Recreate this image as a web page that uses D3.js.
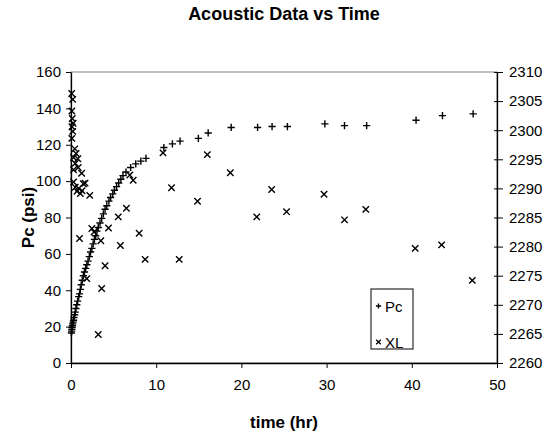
<!DOCTYPE html>
<html>
<head>
<meta charset="utf-8">
<script src="https://cdn.jsdelivr.net/npm/d3@7"></script>
<style>
  body { margin: 0; background: #fff; }
  text { font-family: "Liberation Sans", Arial, sans-serif; fill: #000; }
</style>
</head>
<body>
<div id="container"></div>
<script>
// DATA

const pcTime = [0.05, 0.08, 0.1, 0.13, 0.17, 0.2, 0.25, 0.3, 0.35, 0.42,
  0.5, 0.58, 0.68, 0.78, 0.9, 1.0, 1.1, 1.2, 1.32, 1.45,
  1.58, 1.72, 1.86, 2.0, 2.15, 2.3, 2.45, 2.6, 2.75, 2.9,
  3.05, 3.2, 3.4, 3.6, 3.8, 4.0, 4.2, 4.45, 4.65, 4.9,
  5.1, 5.35, 5.6, 5.85, 6.1, 6.45, 7.0, 7.6, 8.2, 8.8,
  10.9, 11.9, 12.8, 14.95, 16.1, 18.8, 21.9, 23.6, 25.4, 29.8,
  32.1, 34.7, 40.5, 43.6, 47.2]
const pcValue = [16.5, 17.5, 18.5, 19.5, 20.5, 21.5, 22.5, 23.5, 25, 26.5,
  28, 30, 32, 34, 36.5, 38, 40.5, 43, 45.5, 48,
  50, 52, 54, 56, 58.5, 61, 63, 65.5, 68, 70,
  72.5, 74.5, 77, 79.5, 82, 84.5, 86.5, 89, 91, 93,
  95, 97, 99, 101, 103, 105, 107.5, 109.5, 111, 112.5,
  118.5, 120.5, 122, 123.5, 126.5, 129.5, 129.5, 130, 130, 131.5,
  130.5, 130.5, 133.5, 136, 137]

const xlTime = [0.08, 0.2, 0.1, 0.15, 0.25, 0.12, 0.2, 0.1, 0.45, 0.6,
  0.3, 0.8, 0.5, 0.85, 0.3, 1.25, 0.3, 1.45, 0.5, 0.7,
  0.9, 1.1, 1.3, 1.65, 2.2, 1.0, 1.85, 2.45, 2.7, 3.2,
  3.5, 3.6, 4.0, 4.4, 5.55, 5.8, 6.5, 6.9, 7.3, 8.0,
  8.7, 10.8, 11.8, 12.7, 14.85, 16.0, 18.7, 21.8, 23.55, 25.3,
  29.7, 32.1, 34.6, 40.4, 43.5, 47.1]
const xlValue = [2306.3, 2305.3, 2303.3, 2302.0, 2301.2, 2300.6, 2299.8, 2298.6, 2296.8, 2296.0,
  2295.3, 2295.1, 2294.3, 2293.6, 2293.2, 2292.6, 2291.1, 2290.8, 2290.2, 2289.5,
  2290.0, 2289.1, 2289.6, 2290.9, 2288.8, 2281.4, 2274.5, 2283.1, 2282.5, 2264.9,
  2281.0, 2272.8, 2276.7, 2283.2, 2285.1, 2280.2, 2286.6, 2292.3, 2291.4, 2282.3,
  2277.8, 2296.1, 2290.1, 2277.8, 2287.8, 2295.8, 2292.7, 2285.1, 2289.8, 2286.0,
  2289.0, 2284.6, 2286.4, 2279.7, 2280.3, 2274.2]

const xTicks = [0, 10, 20, 30, 40, 50]
const leftTicks = [0, 20, 40, 60, 80, 100, 120, 140, 160]
const rightTicks = [2260, 2265, 2270, 2275, 2280, 2285, 2290, 2295, 2300, 2305, 2310]
const seriesNames = ["Pc", "XL"]

// LAYOUT

const width = 548
const height = 433
const pLeft = 71, pRight = 497, pTop = 72, pBottom = 363

// SCALES

const x = d3.scaleLinear().domain([0, 50]).range([pLeft, pRight])
const yL = d3.scaleLinear().domain([0, 160]).range([pBottom, pTop])
const yR = d3.scaleLinear().domain([2260, 2310]).range([pBottom, pTop])

const svg = d3.select("#container")
  .append("svg")
  .attr("width", width)
  .attr("height", height)

svg.append("rect").attr("width", width).attr("height", height).attr("fill", "#fff")

// plot area border
svg.append("rect")
  .attr("x", pLeft).attr("y", pTop)
  .attr("width", pRight - pLeft).attr("height", pBottom - pTop)
  .attr("fill", "none").attr("stroke", "#808080")

// AXES

const fs = "15px"

const gx = svg.append("g").attr("transform", `translate(0,${pBottom})`)
  .call(d3.axisBottom(x).tickValues(xTicks).tickSize(5).tickPadding(11).tickSizeOuter(0))
gx.selectAll("text").style("font-size", fs)

const gl = svg.append("g").attr("transform", `translate(${pLeft},0)`)
  .call(d3.axisLeft(yL).tickValues(leftTicks).tickSize(5).tickPadding(5).tickSizeOuter(0))
gl.selectAll("text").style("font-size", fs)

const gr = svg.append("g").attr("transform", `translate(${pRight},0)`)
  .call(d3.axisRight(yR).tickValues(rightTicks).tickFormat(d3.format("d"))
    .tickSize(6).tickPadding(6).tickSizeOuter(0))
gr.selectAll("text").style("font-size", fs)
gr.selectAll(".tick line").attr("x1", -3)

svg.selectAll(".domain").attr("stroke", "#000").attr("stroke-width", 1.3)
svg.selectAll(".tick line").attr("stroke", "#000")
svg.selectAll(".tick text").attr("fill", "#000").attr("font-family", "Liberation Sans, Arial, sans-serif")

// MARKERS

const plus = (s) => `M${-s},0H${s}M0,${-s}V${s}`
const cross = (s) => `M${-s},${-s}L${s},${s}M${-s},${s}L${s},${-s}`

const pcData = pcTime.map((t, i) => ({ t: t, v: pcValue[i] }))
const xlData = xlTime.map((t, i) => ({ t: t, v: xlValue[i] }))

svg.append("g").selectAll("path")
  .data(xlData)
  .join("path")
  .attr("d", cross(3.2))
  .attr("transform", d => `translate(${x(d.t)},${yR(d.v)})`)
  .attr("stroke", "#000").attr("stroke-width", 1.4).attr("fill", "none")

svg.append("g").selectAll("path")
  .data(pcData)
  .join("path")
  .attr("d", plus(3.6))
  .attr("transform", d => `translate(${x(d.t)},${yL(d.v)})`)
  .attr("stroke", "#000").attr("stroke-width", 1.4).attr("fill", "none")

// TITLES

svg.append("text")
  .attr("x", (pLeft + pRight) / 2).attr("y", 20)
  .attr("text-anchor", "middle")
  .style("font-size", "18px").style("font-weight", "bold")
  .text("Acoustic Data vs Time")

svg.append("text")
  .attr("x", (pLeft + pRight) / 2).attr("y", 428)
  .attr("text-anchor", "middle")
  .style("font-size", "17px").style("font-weight", "bold")
  .text("time (hr)")

svg.append("text")
  .attr("transform", `translate(34,${(pTop + pBottom) / 2}) rotate(-90)`)
  .attr("text-anchor", "middle")
  .style("font-size", "17px").style("font-weight", "bold")
  .text("Pc (psi)")

// LEGEND

const lg = svg.append("g").attr("transform", "translate(371,289)")
lg.append("rect")
  .attr("width", 42).attr("height", 60)
  .attr("fill", "#fff").attr("stroke", "#000")

const lgItems = lg.selectAll("g.item")
  .data(seriesNames)
  .join("g")
  .attr("class", "item")
  .attr("transform", (d, i) => `translate(0,${17 + i * 36})`)

lgItems.append("path")
  .attr("d", (d, i) => i === 0 ? plus(2.6) : cross(2.3))
  .attr("transform", "translate(7.5,0)")
  .attr("stroke", "#000").attr("stroke-width", 1.3).attr("fill", "none")

lgItems.append("text")
  .attr("x", 14).attr("y", 5.5)
  .style("font-size", fs)
  .text(d => d)
</script>
</body>
</html>
